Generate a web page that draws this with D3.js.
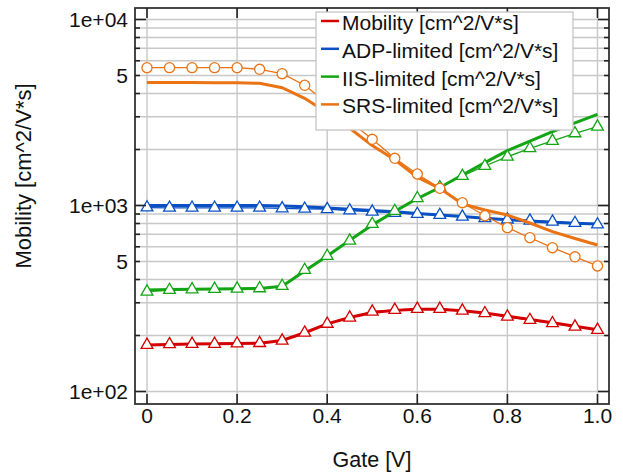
<!DOCTYPE html>
<html><head><meta charset="utf-8">
<script src="https://cdn.jsdelivr.net/npm/d3@7"></script>
<style>body{margin:0;background:#fff;} svg{display:block;font-family:"Liberation Sans",Arial,sans-serif;}</style>
</head><body><svg id="c" width="623" height="474"></svg>
<script>
const gate = [0,0.05,0.1,0.15,0.2,0.25,0.3,0.35,0.4,0.45,0.5,0.55,0.6,0.65,0.7,0.75,0.8,0.85,0.9,0.95,1.0];
// thick (model) curves
const mobilityLine = [178,179,180,180.5,181,182,188,207,231,250,266,273,277,277,272,264,254,244,234,224,215];
const adpLine      = [1000,1000,1000,1000,1000,1000,995,985,970,955,940,925,905,890,872,855,838,825,812,802,795];
const iisLine      = [351,353,355,356,357,358,368,445,535,650,786,930,1090,1250,1458,1700,1970,2220,2493,2780,3092];
const srsLine      = [4580,4580,4578,4575,4570,4540,4300,3770,3150,2600,2100,1760,1420,1237,1019,946,889,805,723,665,613];
// thin curves with markers
const mobilityPts = [178,179.5,180.3,180.3,181,182,187.6,207,231,249.5,268.6,274.4,277.8,277.8,272,263.3,252.5,242.3,232.6,223,214.2];
const adpPts      = [975,972,972,972,972,972,965,960,955,940,926,912,900,889,871,855,840,829,818,805,790];
const iisPts      = [344,351,354,356,357,358.6,369,450,535,647,795,934,1093,1253,1441,1631,1830,2030,2223,2443,2653];
const srsPts      = [5508,5508,5508,5508,5508,5400,5113,4430,3550,2840,2270,1794,1477,1237,1035,881,760,671,593,530,473];

const seriesNames = ["Mobility [cm^2/V*s]","ADP-limited [cm^2/V*s]","IIS-limited [cm^2/V*s]","SRS-limited [cm^2/V*s]"];
const seriesColors = ["#d40000","#0a50c4","#14a514","#ea7314"];
const markerTypes = ["triangle","triangle","triangle","circle"];
const xTicks = [0,0.2,0.4,0.6,0.8,1.0];
const xTickLabels = ["0","0.2","0.4","0.6","0.8","1.0"];
const yLabelTicks = [100,1000,5000,10000];
const yLabelText = ["1e+02","1e+03","5","1e+04"];
const extraLabel = [500];

const L=135,R=609,T=8,B=404;
const svg=d3.select("#c");
const x=d3.scaleLinear().domain([-12/450.5,1+11.5/450.5]).range([L,R]);
const y=d3.scaleLog().domain([Math.pow(10,2-12.5/186),Math.pow(10,4+11.5/186)]).range([B,T]);

// minor ticks
const yMinor=[];
[100,1000].forEach(d=>{for(let k=1;k<=9;k++) yMinor.push(d*k);});
yMinor.push(10000);
const yMajor=[100,1000,10000];

// grid
const g=svg.append("g");
g.selectAll(".gx").data(xTicks).enter().append("line")
 .attr("x1",d=>x(d)).attr("x2",d=>x(d)).attr("y1",T).attr("y2",B)
 .attr("stroke","#c8c8c8").attr("stroke-width",1.4);
g.selectAll(".gy").data(yMinor).enter().append("line")
 .attr("x1",L).attr("x2",R).attr("y1",d=>y(d)).attr("y2",d=>y(d))
 .attr("stroke","#c8c8c8").attr("stroke-width",1.4);

// series
const thick=[mobilityLine,adpLine,iisLine,srsLine];
const thin=[mobilityPts,adpPts,iisPts,srsPts];
const line=d3.line().x((d,i)=>x(gate[i])).y(d=>y(d));
const plot=svg.append("g");
for(let s=0;s<4;s++){
  plot.append("path").datum(thick[s]).attr("d",line).attr("fill","none")
   .attr("stroke",seriesColors[s]).attr("stroke-width",3);
  plot.append("path").datum(thin[s]).attr("d",line).attr("fill","none")
   .attr("stroke",seriesColors[s]).attr("stroke-width",1.3);
  const sym=d3.symbol().type(markerTypes[s]==="circle"?d3.symbolCircle:d3.symbolTriangle).size(markerTypes[s]==="circle"?80:60);
  plot.selectAll(null).data(thin[s]).enter().append("path")
   .attr("d",sym).attr("transform",(d,i)=>`translate(${x(gate[i])},${y(d)})`)
   .attr("fill","#fff").attr("stroke",seriesColors[s]).attr("stroke-width",1.3);
}

// frame
svg.append("rect").attr("x",L).attr("y",T).attr("width",R-L).attr("height",B-T)
 .attr("fill","none").attr("stroke","#333").attr("stroke-width",1.8);
// ticks
const tk=svg.append("g").attr("stroke","#222").attr("stroke-width",1.6);
xTicks.forEach(d=>{
  tk.append("line").attr("x1",x(d)).attr("x2",x(d)).attr("y1",B).attr("y2",B-10);
  tk.append("line").attr("x1",x(d)).attr("x2",x(d)).attr("y1",T).attr("y2",T+10);
});
yMinor.forEach(d=>{
  const len = yMajor.includes(d)?11:5;
  tk.append("line").attr("x1",L).attr("x2",L+len).attr("y1",y(d)).attr("y2",y(d));
  tk.append("line").attr("x1",R).attr("x2",R-len).attr("y1",y(d)).attr("y2",y(d));
});

// tick labels
const tl=svg.append("g").attr("font-size",21).attr("fill","#111");
xTicks.forEach((d,i)=>{
  tl.append("text").attr("x",x(d)).attr("y",423).attr("text-anchor","middle").text(xTickLabels[i]);
});
yLabelTicks.forEach((d,i)=>{
  tl.append("text").attr("x",128).attr("y",y(d)+7.3).attr("text-anchor","end").text(yLabelText[i]);
});
extraLabel.forEach(d=>{
  tl.append("text").attr("x",128).attr("y",y(d)+7.3).attr("text-anchor","end").text("5");
});

// axis titles
svg.append("text").attr("x",372).attr("y",467).attr("text-anchor","middle")
 .attr("font-size",21.5).attr("fill","#111").text("Gate [V]");
svg.append("text").attr("transform","translate(31,176) rotate(-90)").attr("text-anchor","middle")
 .attr("font-size",22).attr("fill","#111").text("Mobility [cm^2/V*s]");

// legend
const lg=svg.append("g");
lg.append("rect").attr("x",316).attr("y",12).attr("width",257).attr("height",118)
 .attr("fill","#fff").attr("stroke","#c0c0c0").attr("stroke-width",1.2);
seriesNames.forEach((n,i)=>{
  const by=30+i*27.8;
  lg.append("line").attr("x1",321).attr("x2",339).attr("y1",by-9).attr("y2",by-9)
   .attr("stroke",seriesColors[i]).attr("stroke-width",2.5);
  lg.append("text").attr("x",342).attr("y",by).attr("font-size",21).attr("fill","#111").text(n);
});
</script></body></html>
